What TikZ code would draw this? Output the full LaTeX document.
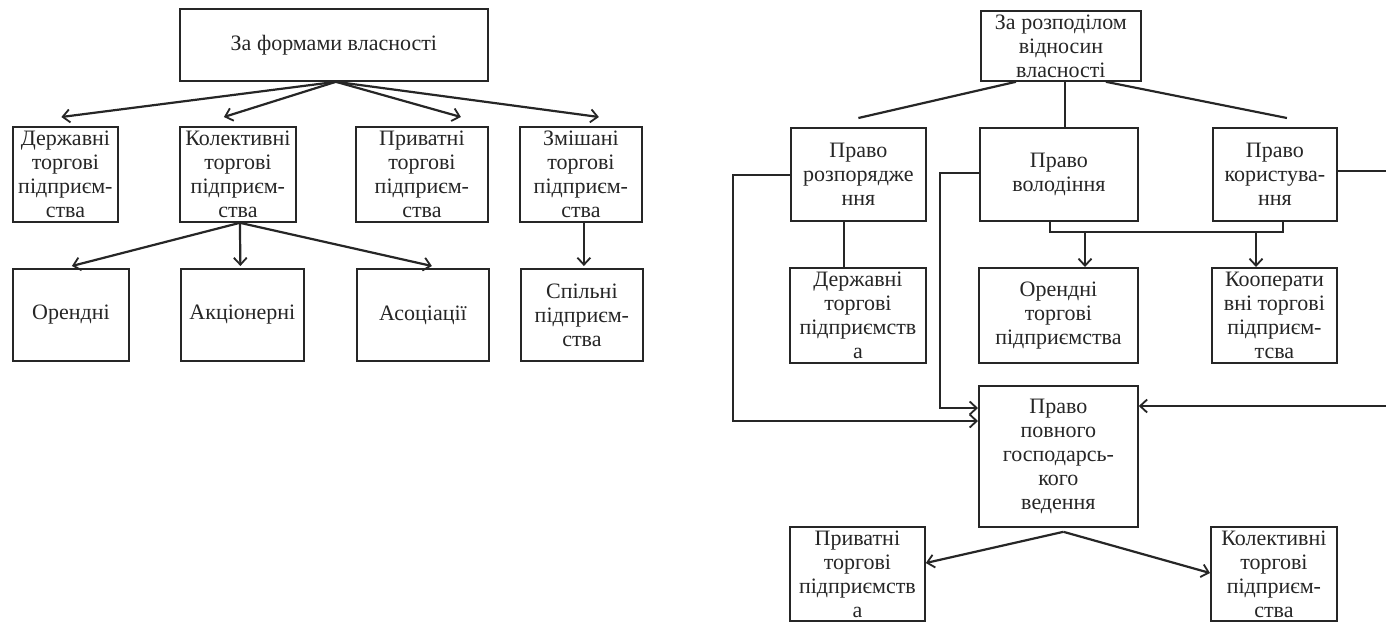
\documentclass[tikz,border=0pt]{standalone}
\usepackage{fontspec}
\setmainfont{Liberation Serif}
\usetikzlibrary{arrows.meta,calc}
\definecolor{ink}{HTML}{262626}
\tikzset{
  box/.style={draw=ink, line width=1.8pt, text=ink, anchor=north west, inner sep=0pt,
    align=center, font=\fontsize{22}{24}\selectfont},
  conn/.style={draw=ink, line width=2.2pt},
  arr/.style={conn, -{Straight Barb[length=7pt,width=13pt,line width=1.8pt]}},
}
\newcommand{\bx}[6]{\node[box, minimum width=#4pt, minimum height=#5pt] (#1) at (#2,#3) {#6};}
\begin{document}
\begin{tikzpicture}[x=1pt,y=-1pt]
\useasboundingbox[fill=white] (0,0) rectangle (1386,622);
% ---------- left diagram ----------
\bx{L0}{179}{8}{308}{72}{За формами власності}
\bx{L1}{12}{126}{105}{95}{Державні\\торгові\\підприєм-\\ства}
\bx{L2}{179}{126}{116}{95}{Колективні\\торгові\\підприєм-\\ства}
\bx{L3}{355}{126}{132}{95}{Приватні\\торгові\\підприєм-\\ства}
\bx{L4}{519}{126}{122}{95}{Змішані\\торгові\\підприєм-\\ства}
\bx{L5}{12}{268}{116}{92}{Орендні}
\bx{L6}{180}{268}{123}{92}{Акціонерні}
\bx{L7}{356}{268}{132}{92}{Асоціації}
\bx{L8}{520}{268}{122}{92}{Спільні\\підприєм-\\ства}

\draw[arr] ($(L0.south)+(2,0)$) -- ($(L1.north)+(-4,-9)$);
\draw[arr] ($(L0.south)+(2,0)$) -- ($(L2.north)+(-14,-9)$);
\draw[arr] ($(L0.south)+(2,0)$) -- ($(L3.north)+(39,-9)$);
\draw[arr] ($(L0.south)+(2,0)$) -- ($(L4.north)+(18,-9)$);

\draw[arr] ($(L2.south)+(2,0)$) -- ($(L5.north)+(1,-2)$);
\draw[arr] ($(L2.south)+(2,0)$) -- ($(L6.north)+(-2,-2)$);
\draw[arr] ($(L2.south)+(2,0)$) -- ($(L7.north)+(9,-2)$);
\draw[arr] ($(L4.south)+(3,0)$) -- ($(L8.north)+(2,-2)$);

% ---------- right diagram ----------
\bx{R0}{980}{10}{160}{70}{За розподілом\\відносин\\власності}
\bx{R1}{790}{127}{135}{93}{Право\\розпорядже\\ння}
\bx{R2}{979}{127}{158}{93}{Право\\володіння}
\bx{R3}{1212}{127}{124}{93}{Право\\користува-\\ння}
\bx{R4}{789}{267}{136}{95}{Державні\\торгові\\підприємств\\а}
\bx{R5}{978}{267}{159}{95}{Орендні\\торгові\\підприємства}
\bx{R6}{1211}{267}{125}{95}{Кооперати\\вні торгові\\підприєм-\\тсва}
\bx{R7}{978}{385}{159}{141}{Право\\повного\\господарсь-\\кого\\ведення}
\bx{R8}{789}{526}{135}{94}{Приватні\\торгові\\підприємств\\а}
\bx{R9}{1210}{526}{126}{94}{Колективні\\торгові\\підприєм-\\ства}

\coordinate (c1) at (1065,80);
\coordinate (c2) at (844,220);
\draw[conn] ($(R0.south)+(-45,0)$) -- ($(R1.north)+(0,-9)$);
\draw[conn] (c1) -- (c1 |- R2.north);
\draw[conn] ($(R0.south)+(45,0)$) -- ($(R3.north)+(12,-9)$);

\draw[conn] (c2) -- (c2 |- R4.north);

\coordinate (b1) at (1050,232);
\coordinate (b2) at (1283,232);
\coordinate (b3) at (1085,232);
\coordinate (b4) at (1256,232);
\draw[conn] (b1 |- R2.south) -- (b1) -- (b2) -- (b2 |- R3.south);
\draw[arr] (b3) -- (b3 |- R5.north);
\draw[arr] (b4) -- (b4 |- R6.north);

\draw[arr] (R1.west |- 0,175) -- (733,175) -- (733,421) -- (R7.west |- 0,421);
\draw[arr] (R2.west |- 0,173) -- (940,173) -- (940,408) -- (R7.west |- 0,408);
\draw[arr] (R3.east |- 0,171) -- (1395,171) -- (1395,406) -- (R7.east |- 0,406);

\draw[arr] ($(R7.south)+(5,4)$) -- (R8.east |- 0,563);
\draw[arr] ($(R7.south)+(5,4)$) -- (R9.west |- 0,573);
\end{tikzpicture}
\end{document}
